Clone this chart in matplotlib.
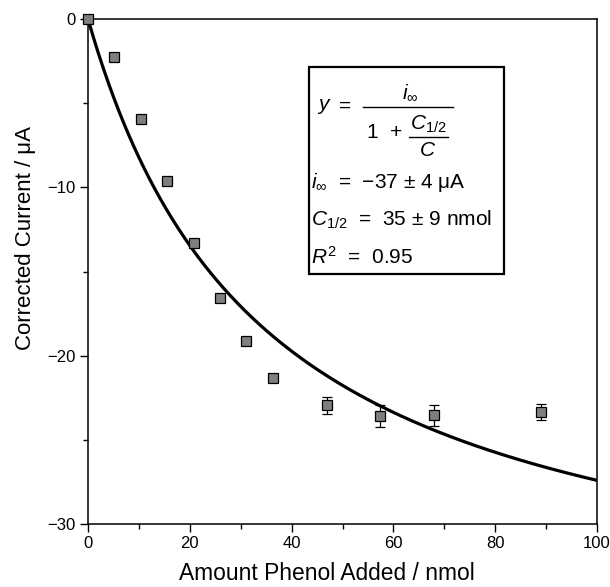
import numpy as np
import matplotlib
matplotlib.use("Agg")
import matplotlib.pyplot as plt
from matplotlib.ticker import MultipleLocator
from matplotlib.lines import Line2D

plt.rcParams['font.family'] = ['Liberation Sans', 'DejaVu Sans']
plt.rcParams['mathtext.fontset'] = 'custom'
plt.rcParams['mathtext.rm'] = 'Liberation Sans'
plt.rcParams['mathtext.it'] = 'Liberation Sans:italic'
plt.rcParams['mathtext.fallback'] = 'cm'

# measured points
phenol_nmol = [0, 5.1, 10.4, 15.5, 20.8, 25.9, 31.0, 36.3, 47.0, 57.4, 68.0, 89.0]
current_uA = [0, -2.25, -5.95, -9.65, -13.3, -16.6, -19.15, -21.3, -22.95, -23.6, -23.55, -23.35]
current_err = [0, 0, 0, 0, 0, 0, 0, 0, 0.5, 0.65, 0.6, 0.5]

# fit parameters
i_inf = -37
c_half = 35

W, H = 610, 587
fig = plt.figure(figsize=(W / 100, H / 100), dpi=100)
ax = fig.add_axes([88 / W, 1 - 524 / H, (597 - 88) / W, (524 - 19) / H])

xc = np.linspace(0.01, 100, 400)
ax.plot(xc, i_inf / (1 + c_half / xc), color='black', lw=2.3, zorder=2)

ax.errorbar(phenol_nmol, current_uA, yerr=current_err, fmt='none',
            ecolor='black', elinewidth=0.9, capsize=3.8, capthick=0.9, zorder=3)
ax.plot(phenol_nmol, current_uA, 's', ms=7, mfc='#7f7f7f', mec='black',
        mew=0.9, zorder=4, clip_on=False)

ax.set_xlim(0, 100)
ax.set_ylim(-30, 0)
ax.set_xticks([0, 20, 40, 60, 80, 100])
ax.set_yticks([0, -10, -20, -30])
ax.set_yticklabels(['0', '\u221210', '\u221220', '\u221230'])
ax.xaxis.set_minor_locator(MultipleLocator(10))
ax.yaxis.set_minor_locator(MultipleLocator(5))
ax.tick_params(which='major', direction='out', length=6, width=1, labelsize=12, pad=3)
ax.tick_params(which='minor', direction='out', length=3.5, width=1)
for s in ax.spines.values():
    s.set_linewidth(1.1)

ax.set_xlabel('Amount Phenol Added / nmol', fontsize=16.4)
ax.set_ylabel('Corrected Current / \u03bcA', fontsize=16)
# labels sit a little off-centre in the original
ax.xaxis.set_label_coords((327 - 88) / 509, (524 - 562) / 505)
ax.yaxis.set_label_coords((36 - 88) / 509, (524 - 238) / 505)


def fx(px):
    return px / W


def fy(py):
    return 1 - py / H


# equation box
box = plt.Rectangle((fx(309), fy(274)), (504 - 309) / W, (274 - 67) / H,
                    transform=fig.transFigure, fill=False, lw=1.6,
                    edgecolor='black')
fig.add_artist(box)

fs = 15
fig.text(fx(317), fy(107), r'$y$', fontsize=fs, va='center', ha='left')
fig.text(fx(345), fy(106), '=', fontsize=fs, va='center', ha='center')
fig.add_artist(Line2D([fx(363), fx(453)], [fy(107), fy(107)],
                      transform=fig.transFigure, color='black', lw=1))
fig.text(fx(410), fy(93), r'$i_\infty$', fontsize=fs, va='center', ha='center')
fig.text(fx(367), fy(132), '1  +', fontsize=fs, va='center', ha='left')
fig.add_artist(Line2D([fx(409), fx(448)], [fy(137), fy(137)],
                      transform=fig.transFigure, color='black', lw=1))
fig.text(fx(428), fy(124), r'$C_{1/2}$', fontsize=fs, va='center', ha='center')
fig.text(fx(428), fy(150), r'$C$', fontsize=fs, va='center', ha='center')

fig.text(fx(311), fy(183), '$i_\\infty$  =  \u221237 \u00b1 4 \u03bcA', fontsize=fs,
         va='center', ha='left')
fig.text(fx(311), fy(220), '$C_{1/2}$  =  35 \u00b1 9 nmol', fontsize=fs,
         va='center', ha='left')
fig.text(fx(311), fy(257), '$R^2$  =  0.95', fontsize=fs, va='center', ha='left')

fig.savefig('out.png', dpi=100)
